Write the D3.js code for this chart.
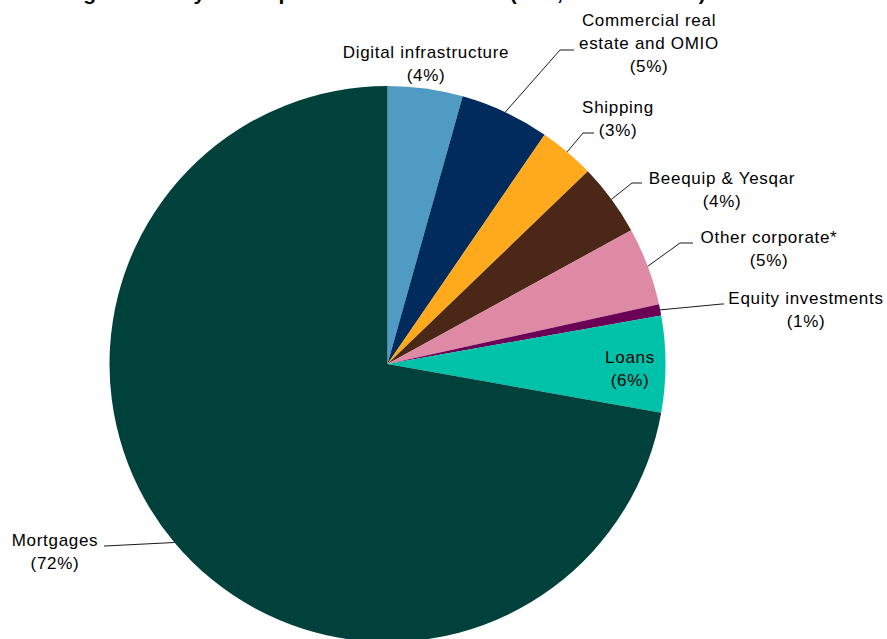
<!DOCTYPE html>
<html>
<head>
<meta charset="utf-8">
<script src="https://cdn.jsdelivr.net/npm/d3@7"></script>
<style>
  html, body { margin: 0; padding: 0; background: #ffffff; }
  svg { display: block; }
  text { font-family: "Liberation Sans", Arial, sans-serif; }
</style>
</head>
<body>
<div id="chart"></div>
<script>
// ---- data ----
const title = "Lending assets by client portfolio and sectors (€bn, 31 Dec 2023)";
const categories = ["Digital infrastructure", "Commercial real estate and OMIO", "Shipping",
  "Beequip & Yesqar", "Other corporate*", "Equity investments", "Loans", "Mortgages"];
const values = [4.36, 5.2, 3.25, 4.2, 4.55, 0.65, 5.6, 72.2];
const pctLabels = ["(4%)", "(5%)", "(3%)", "(4%)", "(5%)", "(1%)", "(6%)", "(72%)"];
const labelLines = [
  ["Digital infrastructure"],
  ["Commercial real", "estate and OMIO"],
  ["Shipping"],
  ["Beequip  & Yesqar"],
  ["Other corporate*"],
  ["Equity investments"],
  ["Loans"],
  ["Mortgages"]
];
const colors = ["#4F9BC4", "#002B5C", "#FFAA1D", "#4A2716", "#DE8AA4", "#6B0057", "#00C2A8", "#00413C"];

// ---- layout ----
const W = 887, H = 639;
const cx = 387.5, cy = 364, R = 278;
// label anchor (text centre x, first baseline y) and leader elbow/end (null = no leader)
const labelPos = [
  {x: 426, y: 58, leader: null},
  {x: 649, y: 26, leader: [[560, 50], [574, 50]]},
  {x: 618, y: 113, leader: [[583, 133], [594, 133]]},
  {x: 722, y: 184, leader: [[632, 183], [642, 183]]},
  {x: 769, y: 243, leader: [[680, 243], [693, 243]]},
  {x: 806, y: 304, leader: [[722, 304], [724, 304]]},
  {x: 630, y: 363, leader: null},
  {x: 55, y: 546, leader: [[105, 546], [104, 546]]}
];
const lineH = 23;

const svg = d3.select("#chart").append("svg")
  .attr("width", W).attr("height", H);

// title (mostly clipped at top in reference)
svg.append("text")
  .attr("x", 10).attr("y", 0)
  .attr("font-size", 21).attr("font-weight", "bold")
  .attr("letter-spacing", 0.75)
  .attr("fill", "#000")
  .text(title);

const pie = d3.pie().sort(null).value(d => d)
  .startAngle(0).endAngle(2 * Math.PI);
const arcs = pie(values);
const arc = d3.arc().innerRadius(0).outerRadius(R);

const g = svg.append("g").attr("transform", `translate(${cx},${cy})`);
g.selectAll("path.slice")
  .data(arcs)
  .join("path")
  .attr("class", "slice")
  .attr("d", arc)
  .attr("fill", (d, i) => colors[i])
  .attr("stroke", "none");

// leader lines
arcs.forEach((a, i) => {
  const lp = labelPos[i];
  if (!lp.leader) return;
  const mid = (a.startAngle + a.endAngle) / 2;
  const sx = cx + R * Math.sin(mid), sy = cy - R * Math.cos(mid);
  const pts = [[sx, sy], ...lp.leader];
  svg.append("path")
    .attr("d", d3.line()(pts))
    .attr("fill", "none")
    .attr("stroke", "#1a1a1a")
    .attr("stroke-width", 1);
});

// labels
categories.forEach((c, i) => {
  const lp = labelPos[i];
  const lines = labelLines[i].concat([pctLabels[i]]);
  const t = svg.append("text")
    .attr("text-anchor", "middle")
    .attr("font-size", 17)
    .attr("letter-spacing", 0.7)
    .attr("fill", "#000");
  lines.forEach((ln, k) => {
    t.append("tspan")
      .attr("x", lp.x)
      .attr("y", lp.y + k * lineH)
      .text(ln);
  });
});
</script>
</body>
</html>
